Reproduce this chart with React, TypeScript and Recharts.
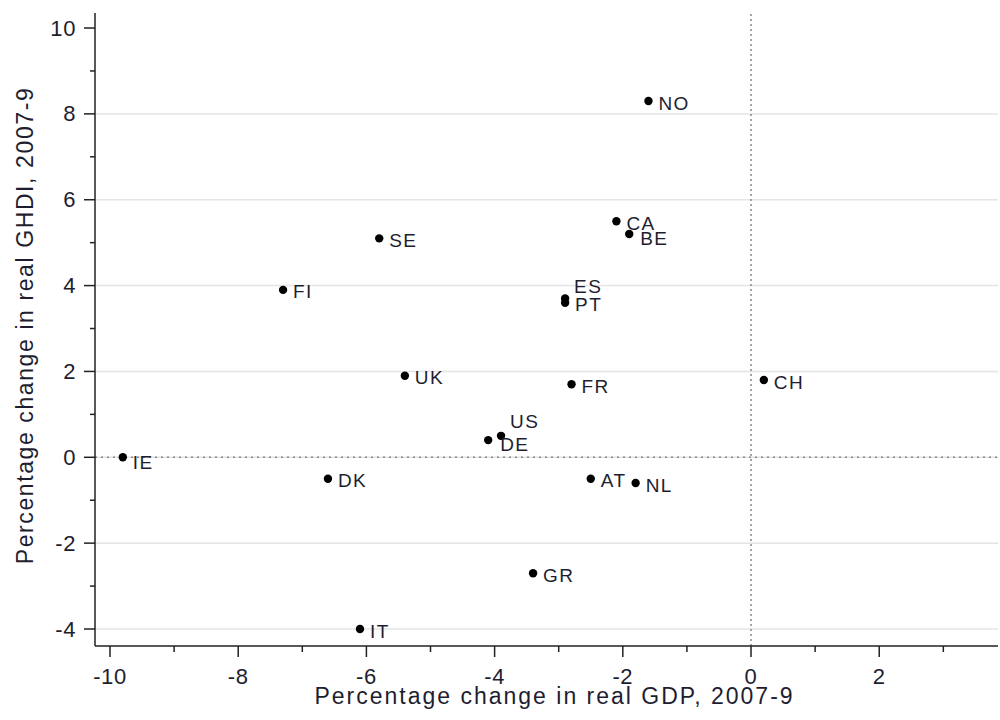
import React from "react";
import { ScatterChart, Scatter, XAxis, YAxis, CartesianGrid, ReferenceLine } from "recharts";

const countries = ["NO", "CA", "BE", "SE", "FI", "ES", "PT", "UK", "FR", "CH", "US", "DE", "IE", "DK", "AT", "NL", "GR", "IT"];
const gdpChange = [-1.6, -2.1, -1.9, -5.8, -7.3, -2.9, -2.9, -5.4, -2.8, 0.2, -3.9, -4.1, -9.8, -6.6, -2.5, -1.8, -3.4, -6.1];
const ghdiChange = [8.3, 5.5, 5.2, 5.1, 3.9, 3.7, 3.6, 1.9, 1.7, 1.8, 0.5, 0.4, 0.0, -0.5, -0.5, -0.6, -2.7, -4.0];

const xTicks = [-10, -9, -8, -7, -6, -5, -4, -3, -2, -1, 0, 1, 2, 3];
const yTicks = [-4, -3, -2, -1, 0, 1, 2, 3, 4, 5, 6, 7, 8, 9, 10];
const gridValues = [-4, -2, 0, 2, 4, 6, 8];

const xTitle = "Percentage change in real GDP, 2007-9";
const yTitle = "Percentage change in real GHDI, 2007-9";

const data = countries.map((name, i) => ({ name, x: gdpChange[i], y: ghdiChange[i] }));

// label placement tweaks (style only)
const labelOffset: Record<string, { dx: number; dy: number }> = {
  ES: { dx: 9, dy: -12 },
  US: { dx: 9, dy: -14 },
  DE: { dx: 12, dy: 4 },
  BE: { dx: 11, dy: 4 },
  IE: { dx: 10, dy: 5 },
};

const FONT = "'Liberation Sans', Arial, sans-serif";
const TEXT = "#1e1e30";
const AXIS = "#222";

const XTick = (props: any) => {
  const { x, y, payload } = props;
  const major = payload.value % 2 === 0;
  return (
    <g>
      <line x1={x} x2={x} y1={y} y2={y + (major ? 11 : 6)} stroke={AXIS} strokeWidth={1.5} />
      {major && (
        <text x={x} y={y + 38} textAnchor="middle" fontFamily={FONT} fontSize={22} fill={TEXT} letterSpacing={0.6}>
          {payload.value}
        </text>
      )}
    </g>
  );
};

const YTick = (props: any) => {
  const { x, y, payload } = props;
  const major = payload.value % 2 === 0;
  return (
    <g>
      <line x1={x} x2={x - (major ? 11 : 5)} y1={y} y2={y} stroke={AXIS} strokeWidth={1.5} />
      {major && (
        <text x={x - 19} y={y} textAnchor="end" dominantBaseline="central" fontFamily={FONT} fontSize={22} fill={TEXT} letterSpacing={0.6}>
          {payload.value}
        </text>
      )}
    </g>
  );
};

const PointShape = (props: any) => {
  const { cx, cy, payload } = props;
  const off = labelOffset[payload.name] || { dx: 10, dy: 2 };
  return (
    <g>
      <circle cx={cx} cy={cy} r={4.2} fill="#000" />
      <text x={cx + off.dx} y={cy + off.dy} textAnchor="start" dominantBaseline="central" fontFamily={FONT} fontSize={19} fill={TEXT} letterSpacing={1.4}>
        {payload.name}
      </text>
    </g>
  );
};

export default function App() {
  return (
    <div style={{ position: "absolute", left: 0, top: 0, width: 1000, height: 720, background: "#fff" }}>
      <ScatterChart width={1000} height={720} margin={{ top: 13, right: 2, bottom: 0, left: 0 }}>
        <CartesianGrid vertical={false} horizontalValues={gridValues} stroke="#e4e4e4" strokeWidth={1.5} />
        <XAxis
          type="number"
          dataKey="x"
          domain={[-10.234, 3.853]}
          ticks={xTicks}
          allowDataOverflow
          height={74}
          tickSize={0}
          tickMargin={0}
          tickLine={false}
          axisLine={{ stroke: AXIS, strokeWidth: 1.5 }}
          tick={<XTick />}
          interval={0}
          label={{
            content: (p: any) => {
              const vb = p.viewBox || {};
              return (
                <text x={vb.x + vb.width / 2 + 8} y={vb.y + 58} textAnchor="middle" fontFamily={FONT} fontSize={23} fill={TEXT} letterSpacing={2}>
                  {xTitle}
                </text>
              );
            },
          }}
        />
        <YAxis
          type="number"
          dataKey="y"
          domain={[-4.396, 10.35]}
          ticks={yTicks}
          allowDataOverflow
          width={95}
          tickSize={0}
          tickMargin={0}
          tickLine={false}
          axisLine={{ stroke: AXIS, strokeWidth: 1.5 }}
          tick={<YTick />}
          interval={0}
          label={{
            content: (p: any) => {
              const vb = p.viewBox || {};
              const cx = 33;
              const cy = vb.y + vb.height / 2 - 4;
              return (
                <text x={cx} y={cy} transform={`rotate(-90 ${cx} ${cy})`} textAnchor="middle" fontFamily={FONT} fontSize={23} fill={TEXT} letterSpacing={1.6}>
                  {yTitle}
                </text>
              );
            },
          }}
        />
        <ReferenceLine y={0} stroke="#888" strokeDasharray="2 4" strokeWidth={1.5} />
        <ReferenceLine x={0} stroke="#888" strokeDasharray="2 3" strokeWidth={1.5} />
        <Scatter data={data} shape={<PointShape />} isAnimationActive={false} />
      </ScatterChart>
    </div>
  );
}
